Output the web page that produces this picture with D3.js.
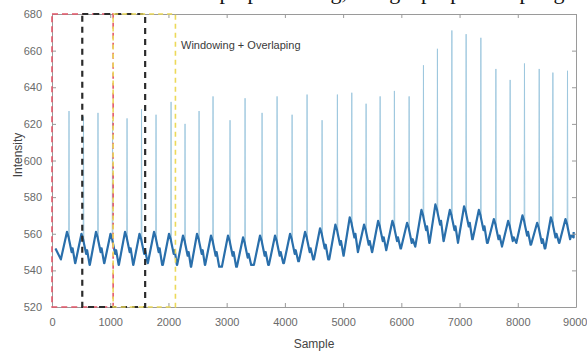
<!DOCTYPE html>
<html>
<head>
<meta charset="utf-8">
<script src="https://cdn.jsdelivr.net/npm/d3@7"></script>
<style>
  body { margin: 0; background: #fff; }
  svg { display: block; }
</style>
</head>
<body>
<svg id="chart" width="587" height="352"></svg>
<script>
// sample index of each beat's sharp peak
const beatSample = [292, 541, 790, 1040, 1289, 1538, 1787, 2045, 2285, 2526, 2766, 3058,
  3316, 3608, 3866, 4124, 4381, 4639, 4902, 5149, 5395, 5636, 5881, 6134, 6380,
  6620, 6868, 7113, 7366, 7624, 7869, 8115, 8368, 8603, 8854];
// peak value of each spike
const spikePeak = [627, 624, 626, 622, 623, 628, 625, 632, 620, 627, 635, 622,
  634, 626, 635, 625, 636, 622, 636, 637, 631, 635, 638, 635, 652,
  661, 671, 669, 667, 650, 644, 653, 650, 648, 649];
// top of the slow wave around each spike
const humpTop = [561, 560, 561, 560, 561, 560, 561, 560, 559, 560, 559, 559,
  558, 559, 559, 560, 561, 563, 565, 569, 565, 567, 567, 566, 573,
  576, 573, 575, 573, 568, 567, 570, 566, 569, 568];
// low point closing each beat
const troughLow = [544, 543, 544, 543, 543, 544, 543, 543, 542, 543, 542, 542,
  543, 543, 544, 545, 546, 546, 548, 550, 550, 551, 552, 553, 555,
  556, 555, 557, 555, 553, 555, 554, 552, 555, 558];
// first and last recorded values
const signalStart = { s: 60, v: 552 };
const signalEnd = { s: 8960, v: 561 };

const xTicks = [0, 1000, 2000, 3000, 4000, 5000, 6000, 7000, 8000, 9000];
const yTicks = [520, 540, 560, 580, 600, 620, 640, 660, 680];

// analysis windows [start, end] in samples
const windows = [
  { name: 'w1', start: 0, end: 1050, color: '#e4576a', dash: '6,4', width: 1.6 },
  { name: 'w2', start: 520, end: 1600, color: '#2b2b2b', dash: '6,5', width: 2.2 },
  { name: 'w3', start: 1050, end: 2120, color: '#ecd95a', dash: '5,4', width: 1.6 },
];

const svg = d3.select('#chart');
const margin = { left: 52, right: 11, top: 14, bottom: 45 };
const W = 587, H = 352;

const x = d3.scaleLinear().domain([0, 9000]).range([margin.left, W - margin.right]);
const y = d3.scaleLinear().domain([520, 680]).range([H - margin.bottom, margin.top]);

// clipped line of the page text above the figure
svg.append('text')
  .attr('x', 140).attr('y', -1)
  .style('font-family', '"Liberation Serif", serif')
  .style('font-size', '22px').attr('fill', '#111')
  .text('data and preprocessing, using a proper sampling window');

// build the signal from the beat key points
const points = [{ ...signalStart, lo: true }];
beatSample.forEach((s, i) => {
  const h = humpTop[i], t = troughLow[i], p = spikePeak[i];
  const t0 = i === 0 ? signalStart.v - 6 : troughLow[i - 1];
  points.push({ s: s - 140, v: t0, lo: true });
  points.push({ s: s - 35, v: h, lo: true });
  points.push({ s: s - 6, v: h - 3, lo: true });
  points.push({ s: s, v: p, lo: false });
  points.push({ s: s + 6, v: h - 5, lo: true });
  points.push({ s: s + 45, v: h - 11, lo: true });
  points.push({ s: s + 62, v: h - 9, lo: true });
  points.push({ s: s + 105, v: t, lo: true });
});
points.push({ ...signalEnd, lo: true });
points.sort((a, b) => a.s - b.s);

const line = d3.line().x(d => x(d.s)).y(d => y(d.v));

const g = svg.append('g');
// whole signal thin and pale (spikes)
g.append('path').datum(points)
  .attr('fill', 'none').attr('stroke', '#9cc6de').attr('stroke-width', 0.9)
  .attr('d', line);
// slow wave drawn heavier
g.append('path').datum(points.filter(d => d.lo))
  .attr('fill', 'none').attr('stroke', '#2a6fab').attr('stroke-width', 2.2)
  .attr('stroke-linejoin', 'round')
  .attr('d', line);

// axes box with inward ticks
const axisColor = '#9a9a9a';
const tickLen = 4;
const fmt = d3.format('d');
const axLeft = d3.axisLeft(y).tickValues(yTicks).tickFormat(fmt)
  .tickSizeInner(-tickLen).tickSizeOuter(0).tickPadding(10);
const axBottom = d3.axisBottom(x).tickValues(xTicks).tickFormat(fmt)
  .tickSizeInner(-tickLen).tickSizeOuter(0).tickPadding(11);
const axTop = d3.axisTop(x).tickValues(xTicks).tickSizeInner(-tickLen).tickSizeOuter(0).tickFormat('');
const axRight = d3.axisRight(y).tickValues(yTicks).tickSizeInner(-tickLen).tickSizeOuter(0).tickFormat('');

function styleAxis(sel) {
  sel.selectAll('path, line').attr('stroke', axisColor);
  sel.selectAll('text')
    .style('font-family', '"Liberation Sans", Arial, sans-serif')
    .style('font-size', '11px').attr('fill', '#6a6a6a');
}
svg.append('g').attr('transform', `translate(${margin.left},0)`).call(axLeft).call(styleAxis);
const gBottom = svg.append('g').attr('transform', `translate(0,${H - margin.bottom})`).call(axBottom).call(styleAxis);
// last label sits against the right edge, as in the source figure
gBottom.selectAll('text').filter(d => d === 9000).attr('text-anchor', 'end').attr('x', 11);
svg.append('g').attr('transform', `translate(0,${margin.top})`).call(axTop).call(styleAxis);
svg.append('g').attr('transform', `translate(${W - margin.right},0)`).call(axRight).call(styleAxis);

// dashed windows
svg.append('g').selectAll('rect').data(windows).join('rect')
  .attr('x', d => x(d.start)).attr('width', d => x(d.end) - x(d.start))
  .attr('y', y(680)).attr('height', y(520) - y(680))
  .attr('fill', 'none').attr('stroke', d => d.color)
  .attr('stroke-width', d => d.width).attr('stroke-dasharray', d => d.dash);

svg.append('text')
  .attr('x', 181).attr('y', 49)
  .style('font-family', '"Liberation Sans", Arial, sans-serif')
  .style('font-size', '11px').attr('fill', '#3a3a3a')
  .text('Windowing + Overlaping');

svg.append('text')
  .attr('transform', `translate(22,${y(603)}) rotate(-90)`)
  .attr('text-anchor', 'middle')
  .style('font-family', '"Liberation Sans", Arial, sans-serif')
  .style('font-size', '12px').attr('fill', '#444')
  .text('Intensity');

svg.append('text')
  .attr('x', x(4500)).attr('y', 348)
  .attr('text-anchor', 'middle')
  .style('font-family', '"Liberation Sans", Arial, sans-serif')
  .style('font-size', '12px').attr('fill', '#444')
  .text('Sample');
</script>
</body>
</html>
